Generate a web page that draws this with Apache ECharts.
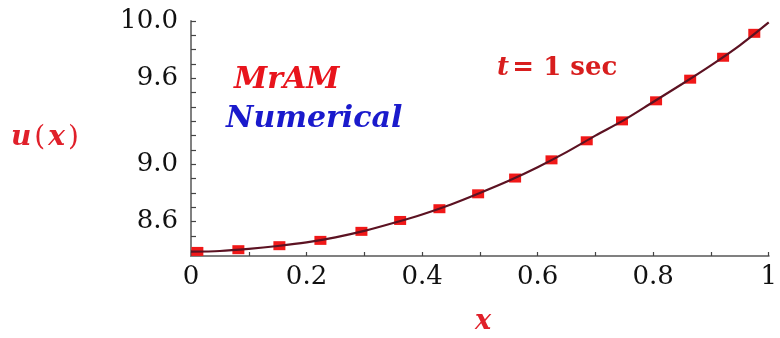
<!DOCTYPE html>
<html><head><meta charset="utf-8">
<script src="https://cdn.jsdelivr.net/npm/echarts@6/dist/echarts.min.js"></script>
<style>html,body{margin:0;padding:0;background:#fff}#c{width:780px;height:338px}</style>
</head><body><div id="c"></div>
<script>
// MrAM markers (x, u)
const mramX = [0.011, 0.082, 0.153, 0.224, 0.295, 0.362, 0.430, 0.497, 0.561, 0.624, 0.685, 0.746, 0.805, 0.864, 0.921, 0.975];
const mramU = [8.392, 8.404, 8.432, 8.469, 8.532, 8.608, 8.690, 8.794, 8.904, 9.031, 9.164, 9.303, 9.443, 9.594, 9.747, 9.914];
// Numerical curve
const numX = [0, 0.05, 0.1, 0.15, 0.2, 0.25, 0.3, 0.35, 0.4, 0.45, 0.5, 0.55, 0.6, 0.65, 0.7, 0.75, 0.8, 0.85, 0.9, 0.95, 1.0];
const numU = [8.39, 8.395, 8.41, 8.43, 8.455, 8.49, 8.535, 8.59, 8.65, 8.72, 8.80, 8.885, 8.98, 9.085, 9.20, 9.31, 9.435, 9.56, 9.69, 9.83, 9.99];
const xTicks = [0, 0.1, 0.2, 0.3, 0.4, 0.5, 0.6, 0.7, 0.8, 0.9, 1.0];
const xLabels = [0, 0.2, 0.4, 0.6, 0.8, 1];
const yTicks = [8.4, 8.5, 8.6, 8.7, 8.8, 8.9, 9.0, 9.1, 9.2, 9.3, 9.4, 9.5, 9.6, 9.7, 9.8, 9.9, 10.0];
const yLabels = [8.6, 9.0, 9.6, 10.0];

const serif = 'DejaVu Serif';
const axisGray = '#808080';
const chart = echarts.init(document.getElementById('c'), null, {renderer: 'canvas'});
chart.setOption({
  animation: false,
  grid: {left: 191, right: 2, top: 21, bottom: 82},
  xAxis: {
    type: 'value', min: 0, max: 1,
    splitLine: {show: false},
    axisLine: {show: true, onZero: false, lineStyle: {color: axisGray, width: 2}},
    axisTick: {show: true, inside: true, length: 4, customValues: xTicks, lineStyle: {color: '#444', width: 1.2}},
    axisLabel: {customValues: xLabels, margin: 8, color: '#111', fontFamily: serif, fontSize: 26,
      formatter: v => (Math.abs(v - 1) < 1e-9 ? '1' : (v === 0 ? '0' : String(+v.toFixed(1))))}
  },
  yAxis: {
    type: 'value', min: 8.36, max: 10.0,
    splitLine: {show: false},
    axisLine: {show: true, onZero: false, lineStyle: {color: axisGray, width: 2}},
    axisTick: {show: true, inside: true, length: 5, customValues: yTicks, lineStyle: {color: '#444', width: 1.2}},
    axisLabel: {customValues: yLabels, margin: 13, color: '#111', fontFamily: serif, fontSize: 26,
      formatter: v => v.toFixed(1)}
  },
  series: [
    {type: 'scatter', name: 'MrAM', data: mramX.map((x, i) => [x, mramU[i]]),
     symbol: 'rect', symbolSize: [12, 9], itemStyle: {color: '#f01818', opacity: 1}, z: 2},
    {type: 'line', name: 'Numerical', data: numX.map((x, i) => [x, numU[i]]),
     smooth: 0.3, showSymbol: false, lineStyle: {color: '#5c1222', width: 2.2}, z: 3}
  ],
  graphic: [
    {type: 'text', left: 234, top: 65, style: {text: 'MrAM', fill: '#e8141c', font: 'italic bold 30px "DejaVu Serif"'}},
    {type: 'text', left: 226, top: 104, style: {text: 'Numerical', fill: '#1a1acc', font: 'italic bold 30px "DejaVu Serif"'}},
    {type: 'text', left: 497, top: 55, style: {
      text: '{i|t} {b|= 1 sec}', rich: {
        i: {fill: '#d81e1e', font: 'italic bold 26px "DejaVu Serif"'},
        b: {fill: '#d81e1e', font: 'bold 26px "DejaVu Serif"'}
      }}},
    {type: 'text', left: 11, top: 124, style: {
      text: '{i|u}{p|(}{i|x}{p|)}', rich: {
        i: {fill: '#e0202a', font: 'italic bold 28px "DejaVu Serif"', padding: [0, 3, 0, 0]},
        p: {fill: '#e0202a', font: '28px "DejaVu Serif"', padding: [0, 3, 0, 0]}
      }}},
    {type: 'text', left: 475, top: 308, style: {text: 'x', fill: '#e0202a', font: 'italic bold 27px "DejaVu Serif"'}}
  ]
});
</script></body></html>
